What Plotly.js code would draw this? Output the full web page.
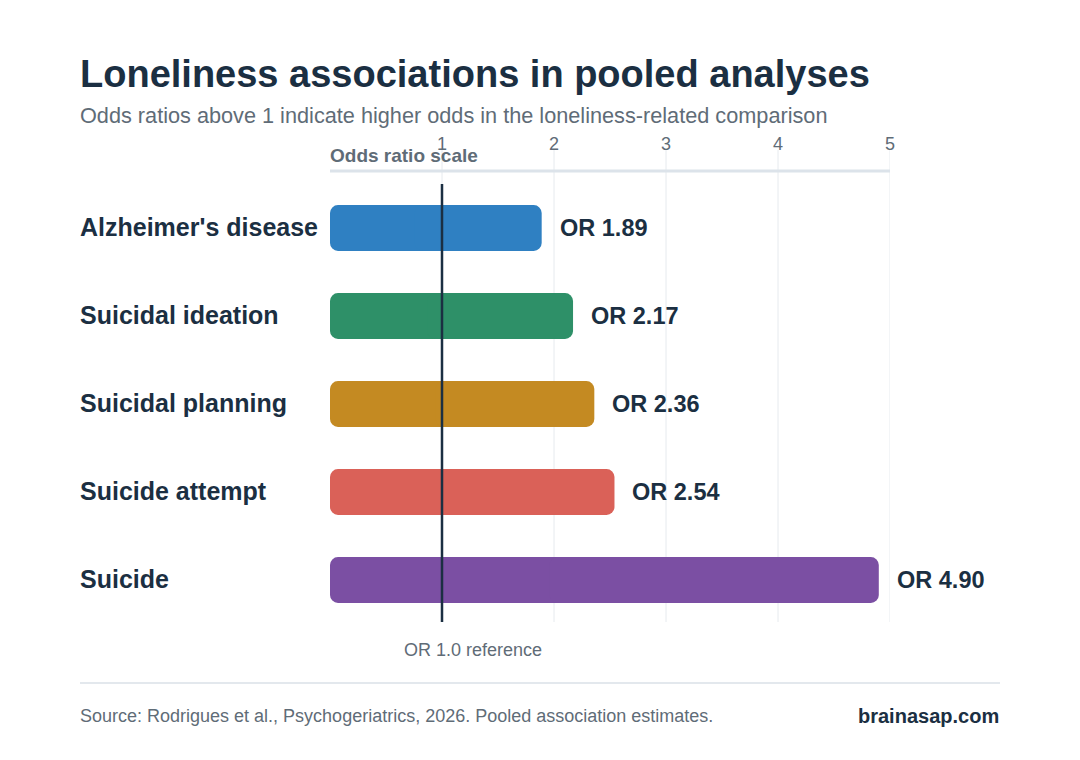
<!DOCTYPE html>
<html>
<head>
<meta charset="utf-8">
<script src="https://cdn.plot.ly/plotly-3.0.1.min.js"></script>
<style>
  html, body { margin: 0; padding: 0; background: #ffffff; }
  #chart { width: 1080px; height: 760px; }
</style>
</head>
<body>
<div id="chart"></div>
<script>
// Pooled odds ratios for loneliness-related outcomes
const outcomes = ["Alzheimer's disease", "Suicidal ideation", "Suicidal planning", "Suicide attempt", "Suicide"];
const oddsRatios = [1.89, 2.17, 2.36, 2.54, 4.90];
const barColors = ["#2f80c2", "#2e9068", "#c48a22", "#da6158", "#7b4fa3"];
const scaleTicks = [1, 2, 3, 4, 5];
const referenceOR = 1;

const FONT = "'Liberation Sans', Arial, sans-serif";
const INK = "#1b2f42";
const MUTED = "#5f6c77";

// plot area in pixels (used to convert label positions to paper units)
const L = 330, R = 190, T = 184, B = 136, W = 1080, H = 760;
const pw = W - L - R, ph = H - T - B;
const px = x => (x - L) / pw;           // pixel x -> paper x
const py = y => 1 - (y - T) / ph;       // pixel y -> paper y

// Each bar is drawn as two overlapping pieces: one grows leftwards to zero
// (rounded at the zero end), the other grows rightwards to the value
// (rounded at the value end), so both ends of the bar get rounded corners.
const barCommon = {
  type: "bar",
  orientation: "h",
  y: outcomes,
  width: 0.52,
  hoverinfo: "skip",
  marker: { color: barColors, cornerradius: 8, line: { width: 0 } }
};
const barLeft = Object.assign({}, barCommon, {
  base: oddsRatios.map(v => v * 0.6),
  x: oddsRatios.map(v => -v * 0.6)
});
const barRight = Object.assign({}, barCommon, {
  base: oddsRatios.map(v => v * 0.4),
  x: oddsRatios.map(v => v * 0.6)
});

const annotations = [];

// outcome names on the left
outcomes.forEach(name => {
  annotations.push({
    text: name, xref: "paper", yref: "y", x: px(78), y: name, yshift: 1,
    xanchor: "left", yanchor: "middle", showarrow: false,
    font: { family: FONT, size: 25, color: INK, weight: 700 }
  });
});

// value labels beyond each bar end
oddsRatios.forEach((v, i) => {
  annotations.push({
    text: "OR " + v.toFixed(2), xref: "x", yref: "y", x: v, y: outcomes[i],
    xanchor: "left", yanchor: "middle", xshift: 16, showarrow: false,
    font: { family: FONT, size: 23.5, color: INK, weight: 700 }
  });
});

// titles, axis caption, footer
annotations.push(
  { text: "Loneliness associations in pooled analyses", xref: "paper", yref: "paper",
    x: px(78), y: py(74), xanchor: "left", yanchor: "middle", showarrow: false,
    font: { family: FONT, size: 38, color: INK, weight: 700 } },
  { text: "Odds ratios above 1 indicate higher odds in the loneliness-related comparison",
    xref: "paper", yref: "paper", x: px(78), y: py(115), xanchor: "left", yanchor: "middle",
    showarrow: false, font: { family: FONT, size: 21.7, color: MUTED } },
  { text: "Odds ratio scale", xref: "paper", yref: "paper", x: px(328), y: py(156),
    xanchor: "left", yanchor: "middle", showarrow: false,
    font: { family: FONT, size: 19, color: MUTED, weight: 700 } },
  { text: "OR 1.0 reference", xref: "x", yref: "paper", x: referenceOR, y: py(650),
    xanchor: "center", yanchor: "middle", xshift: 31, showarrow: false,
    font: { family: FONT, size: 18, color: MUTED } },
  { text: "Source: Rodrigues et al., Psychogeriatrics, 2026. Pooled association estimates.",
    xref: "paper", yref: "paper", x: px(78), y: py(716), xanchor: "left", yanchor: "middle",
    showarrow: false, font: { family: FONT, size: 18, color: MUTED } },
  { text: "brainasap.com", xref: "paper", yref: "paper", x: px(1001), y: py(716),
    xanchor: "right", yanchor: "middle", showarrow: false,
    font: { family: FONT, size: 20, color: INK, weight: 700 } }
);

const shapes = [];

// vertical grid lines running up to the scale bar
scaleTicks.forEach(t => {
  shapes.push({
    type: "line", xref: "x", yref: "paper", x0: t, x1: t, y0: py(622), y1: py(150),
    line: { color: "#e6eaee", width: 1 }, layer: "below"
  });
});

// scale bar under the tick labels
shapes.push({
  type: "line", xref: "x", yref: "paper", x0: 0, x1: scaleTicks[scaleTicks.length - 1],
  y0: py(171), y1: py(171), line: { color: "#dce3ea", width: 3 }, layer: "below"
});

// reference line at OR = 1
shapes.push({
  type: "line", xref: "x", yref: "paper", x0: referenceOR, x1: referenceOR,
  y0: py(622), y1: py(184), line: { color: INK, width: 2.5 }, layer: "above"
});

// footer rule
shapes.push({
  type: "line", xref: "paper", yref: "paper", x0: px(80), x1: px(1000),
  y0: py(683), y1: py(683), line: { color: "#e3e8ed", width: 2 }
});

const layout = {
  width: W, height: H,
  margin: { l: L, r: R, t: T, b: B, pad: 0 },
  paper_bgcolor: "#ffffff", plot_bgcolor: "#ffffff",
  showlegend: false,
  barmode: "overlay",
  xaxis: {
    range: [0, 5], side: "top", tickvals: scaleTicks, ticktext: scaleTicks.map(String),
    showgrid: false, zeroline: false, showline: false, ticks: "",
    ticklabelstandoff: 29,
    tickfont: { family: FONT, size: 18, color: MUTED }, fixedrange: true
  },
  yaxis: {
    range: [4.5, -0.5], type: "category", showticklabels: false, showgrid: false,
    zeroline: false, showline: false, ticks: "", fixedrange: true
  },
  annotations: annotations,
  shapes: shapes
};

Plotly.newPlot("chart", [barLeft, barRight], layout, { displayModeBar: false, staticPlot: true });
</script>
</body>
</html>
